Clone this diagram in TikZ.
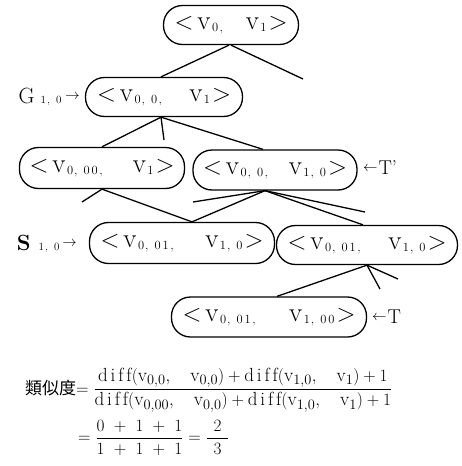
\documentclass[tikz,border=0pt]{standalone}
\usepackage{amsmath}
\usepackage{fontspec}
\newfontfamily\cjk{Noto Sans CJK TC}
\newcommand{\LT}{{\fontsize{27}{27}\selectfont$<$}}
\newcommand{\GT}{{\fontsize{27}{27}\selectfont$>$}}
\newcommand{\V}[1]{{\fontsize{27}{27}\selectfont v}\hspace{1.5pt}\raisebox{-2.5pt}{\fontsize{12.5}{13}\selectfont #1}}
\newcommand{\tup}[3]{\makebox[#1]{\LT\hspace{4pt}\V{#2}\hfill\V{#3}\hspace{2pt}\GT}}
\newcommand{\SB}[1]{\raisebox{-0.5pt}{\fontsize{11}{11}\selectfont #1}}
\newcommand{\AR}{\raisebox{4pt}{\fontsize{14}{14}\selectfont$\rightarrow$}}
\newcommand{\AL}{\raisebox{3pt}{\fontsize{14}{14}\selectfont$\leftarrow$}}
\newcommand{\dff}{\mathrm{d\mkern3mu i\mkern3mu f\mkern3mu f}}
\newcommand{\vv}[1]{\mathrm{v}_{#1}}
\begin{document}
\begin{tikzpicture}[x=1pt,y=-1pt,
  pill/.style={draw,line width=1.3pt,rounded corners=19pt,minimum height=39pt,inner sep=0pt},
  edge/.style={line width=1.3pt},
  lbl/.style={inner sep=0pt}]
\useasboundingbox (0,0) rectangle (462,466);
% nodes
\node[pill,minimum width=135pt] (top) at (231,25) {\tup{113pt}{0\hspace{1.5pt},}{1}};
\node[pill,minimum width=157pt] (G) at (164,97) {\tup{134pt}{0\hspace{1pt},\hspace{6pt}0\hspace{1.5pt},}{1}};
\node[pill,minimum width=165pt,minimum height=41pt] (La) at (102,168) {\tup{145pt}{0\hspace{1pt},\hspace{6pt}0\hspace{2pt}0\hspace{1.5pt},}{1}};
\node[pill,minimum width=164pt,minimum height=40pt] (Lb) at (275,170) {\tup{144pt}{0\hspace{1pt},\hspace{6pt}0\hspace{1.5pt},}{1\hspace{1pt},\hspace{6pt}0}};
\node[pill,minimum width=185pt,minimum height=41pt] (S) at (182,243) {\tup{163pt}{0\hspace{1pt},\hspace{6pt}0\hspace{2pt}1\hspace{1.5pt},}{1\hspace{1pt},\hspace{6pt}0}};
\node[pill,minimum width=181pt] (R) at (367,245) {\tup{159pt}{0\hspace{1pt},\hspace{6pt}0\hspace{2pt}1\hspace{1.5pt},}{1\hspace{1pt},\hspace{6pt}0}};
\node[pill,minimum width=195pt,minimum height=40pt] (T) at (269,317) {\tup{173pt}{0\hspace{1pt},\hspace{6pt}0\hspace{2pt}1\hspace{1.5pt},}{1\hspace{1pt},\hspace{6pt}0\hspace{2pt}0}};
% labels
\node[lbl,anchor=east] (gl) at (80,97) {{\fontsize{22}{22}\selectfont G}\hspace{6pt}\SB{1\hspace{1pt},\hspace{6pt}0}\hspace{4pt}\AR};
\node[lbl,anchor=east] (sl) at (77,244) {{\fontsize{22}{22}\selectfont\bfseries S}\hspace{8pt}\SB{1\hspace{1pt},\hspace{6pt}0}\hspace{3pt}\AR};
\node[lbl,anchor=west] (tpl) at (363,168) {\AL\hspace{1pt}{\fontsize{20}{20}\selectfont T'}};
\node[lbl,anchor=west] (tl) at (372,317) {\AL\hspace{1pt}{\fontsize{20}{20}\selectfont T}};
% dangling ends
\coordinate (d1) at (303,79);
\coordinate (d2) at (164,140);
\coordinate (d3) at (82,202);
\coordinate (d4) at (193,202);
\coordinate (d5) at (365,212);
\coordinate (d6) at (380,289);
\coordinate (d7) at (398,279);
% edges
\draw[edge] ([xshift=-2pt]top.south) -- ([xshift=-3pt]G.north);
\draw[edge] (top.south) -- (d1);
\draw[edge] ([xshift=-3pt]G.south) -- (La.north);
\draw[edge] ([xshift=-3pt]G.south) -- (d2);
\draw[edge] ([xshift=-3pt]G.south) -- ([xshift=-12pt]Lb.north);
\draw[edge] (La.south) -- (d3);
\draw[edge] (La.south) -- ([xshift=10pt]S.north);
\draw[edge] ([xshift=-10pt]Lb.south) -- (d4);
\draw[edge] ([xshift=-10pt]Lb.south) -- ([xshift=10pt]S.north);
\draw[edge] ([xshift=-10pt]Lb.south) -- (d5);
\draw[edge] ([xshift=-10pt]Lb.south) -- ([xshift=-4pt]R.north);
\draw[edge] (R.south) -- ([xshift=8pt]T.north);
\draw[edge] (R.south) -- (d6);
\draw[edge] (R.south) -- (d7);
% formula
\node[inner sep=0pt,anchor=west,font=\fontsize{19}{21}\selectfont] (f1) at (25,390)
  {{\fontsize{17}{20}\selectfont\cjk 類似度}$=\dfrac{\dff(\vv{0,0},\ \ \ \vv{0,0})+\dff(\vv{1,0},\ \ \ \vv{1})+1}{\dff(\vv{0,00},\ \ \ \vv{0,0})+\dff(\vv{1,0},\ \ \ \vv{1})+1}$};
\node[inner sep=0pt,anchor=west,font=\fontsize{18}{20}\selectfont] (f2) at (78,438)
  {$=\dfrac{0\ +\ 1\ +\ 1}{1\ +\ 1\ +\ 1}=\dfrac{\mkern7mu 2\mkern7mu}{\mkern7mu 3\mkern7mu}$};
\end{tikzpicture}
\end{document}
